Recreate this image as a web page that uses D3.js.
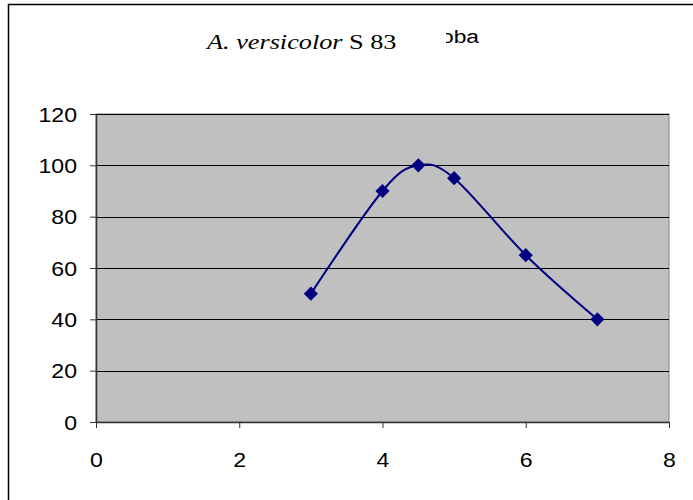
<!DOCTYPE html>
<html>
<head>
<meta charset="utf-8">
<script src="https://cdn.jsdelivr.net/npm/d3@7"></script>
<style>
  html, body { margin: 0; padding: 0; background: #fff; }
  svg { display: block; }
</style>
</head>
<body>
<svg id="chart" width="693" height="500"></svg>
<script>
// Measured activity vs pH
const xValues = [3, 4, 4.5, 5, 6, 7];
const yValues = [50, 90, 100, 95, 65, 40];
const xTicks = [0, 2, 4, 6, 8];
const yTicks = [0, 20, 40, 60, 80, 100, 120];

const svg = d3.select("#chart");
const W = 693, H = 500;
const plot = { left: 96, right: 669, top: 114, bottom: 422 };
const SANS = '"Liberation Sans"';
const SERIF = '"Liberation Serif"';

// Outer chart frame
svg.append("rect")
  .attr("x", 8.5).attr("y", 4.5)
  .attr("width", W + 10).attr("height", H + 10)
  .attr("fill", "#fff").attr("stroke", "#000").attr("stroke-width", 1.5);

const x = d3.scaleLinear().domain([0, 8]).range([plot.left, plot.right]);
const y = d3.scaleLinear().domain([0, 120]).range([plot.bottom, plot.top]);

// Plot area
svg.append("rect")
  .attr("x", plot.left).attr("y", plot.top)
  .attr("width", plot.right - plot.left).attr("height", plot.bottom - plot.top)
  .attr("fill", "#c0c0c0").attr("stroke", "#808080").attr("stroke-width", 1);

// Horizontal gridlines
svg.append("g").selectAll("line")
  .data(yTicks.filter(d => d > 0))
  .join("line")
  .attr("x1", plot.left).attr("x2", plot.right)
  .attr("y1", d => Math.round(y(d)) + 0.5).attr("y2", d => Math.round(y(d)) + 0.5)
  .attr("stroke", "#000").attr("stroke-width", 1);

// Y axis
const yAxis = svg.append("g")
  .attr("transform", `translate(${plot.left},0)`)
  .call(d3.axisLeft(y).tickValues(yTicks).tickSize(6).tickSizeOuter(0));
// X axis
const xAxis = svg.append("g")
  .attr("transform", `translate(0,${plot.bottom})`)
  .call(d3.axisBottom(x).tickValues(xTicks).tickSize(6).tickSizeOuter(0));

[yAxis, xAxis].forEach(g => {
  g.select(".domain").attr("stroke", "#333").attr("stroke-width", 1.5);
  g.selectAll(".tick line").attr("stroke", "#333");
  g.selectAll(".tick text")
    .style("font-family", SANS)
    .style("font-size", "21px").attr("fill", "#000");
});
// Slightly wide tick labels
yAxis.selectAll(".tick text")
  .attr("x", 0).attr("dy", "0.34em")
  .attr("transform", "translate(-19,0) scale(1.1,1)");
xAxis.selectAll(".tick text")
  .attr("y", 0).attr("dy", "0.71em")
  .attr("transform", "translate(0,30) scale(1.1,1)");

// Smoothed series line
const line = d3.line()
  .x((d, i) => x(xValues[i]))
  .y(d => y(d))
  .curve(d3.curveCardinal.tension(0));
svg.append("path")
  .datum(yValues)
  .attr("d", line)
  .attr("fill", "none")
  .attr("stroke", "#000080")
  .attr("stroke-width", 2);

// Diamond markers
svg.append("g").selectAll("path")
  .data(yValues)
  .join("path")
  .attr("transform", (d, i) => `translate(${x(xValues[i])},${y(d)}) rotate(45)`)
  .attr("d", d3.symbol().type(d3.symbolSquare).size(100))
  .attr("fill", "#000080");

// Partially hidden caption behind the title
svg.append("clipPath").attr("id", "capclip")
  .append("rect").attr("x", 446).attr("y", 0).attr("width", 200).attr("height", 80);
svg.append("g").attr("clip-path", "url(#capclip)")
  .append("text")
  .style("font-family", SANS)
  .style("font-size", "19px")
  .attr("transform", "translate(479,43) scale(1.2,1)")
  .attr("text-anchor", "end")
  .text("proba");

// Title in a serif face, stretched to its box width
const title = svg.append("text")
  .style("font-family", SERIF)
  .style("font-size", "22px")
  .attr("x", 0).attr("y", 0);
title.append("tspan").style("font-family", SERIF).style("font-style", "italic").text("A. versicolor");
title.append("tspan").style("font-family", SERIF).text(" S 83");
const tw = title.node().getBBox().width;
title.attr("transform", `translate(207,49) scale(${192 / tw},1)`);
</script>
</body>
</html>
